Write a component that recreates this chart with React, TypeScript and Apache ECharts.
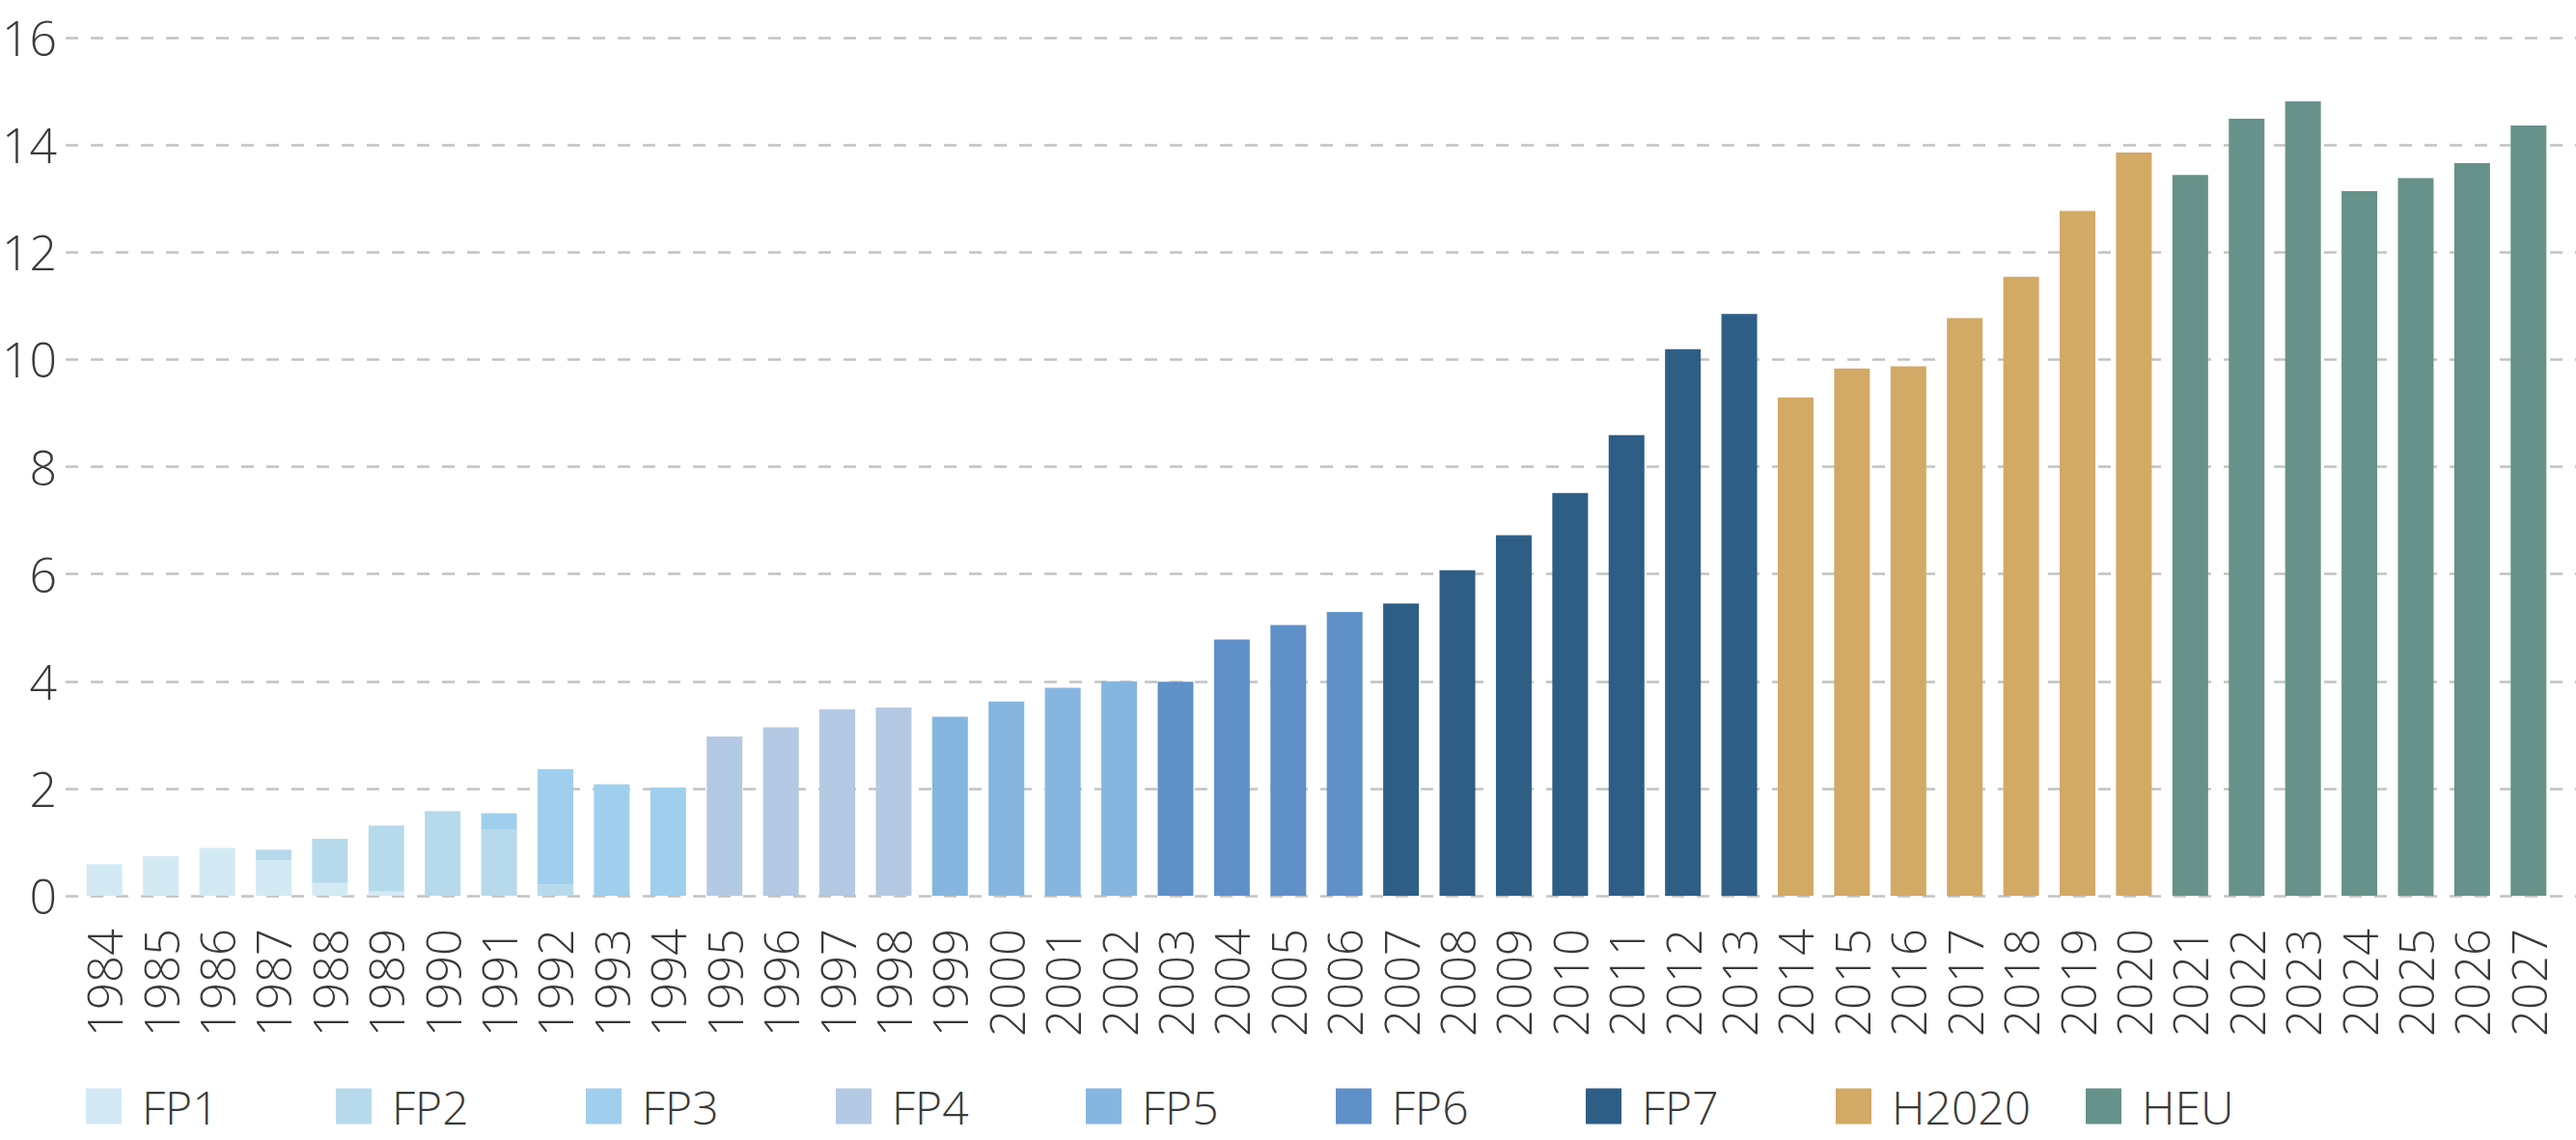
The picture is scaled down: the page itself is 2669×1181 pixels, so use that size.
import React, { useEffect, useRef } from "react";
import * as echarts from "echarts";

const years = [
  "1984", "1985", "1986", "1987", "1988", "1989", "1990", "1991", "1992", "1993", "1994",
  "1995", "1996", "1997", "1998", "1999", "2000", "2001", "2002", "2003", "2004", "2005",
  "2006", "2007", "2008", "2009", "2010", "2011", "2012", "2013", "2014", "2015", "2016",
  "2017", "2018", "2019", "2020", "2021", "2022", "2023", "2024", "2025", "2026", "2027",
];

const _ = null;
// 1984 .. 2027 (44 values each)
const fp1 = [0.59, 0.74, 0.89, 0.66, 0.24, 0.08, _, _, _, _, _, _, _, _, _, _, _, _, _, _, _, _, _, _, _, _, _, _, _, _, _, _, _, _, _, _, _, _, _, _, _, _, _, _];
const fp2 = [_, _, _, 0.2, 0.82, 1.23, 1.58, 1.24, 0.21, _, _, _, _, _, _, _, _, _, _, _, _, _, _, _, _, _, _, _, _, _, _, _, _, _, _, _, _, _, _, _, _, _, _, _];
const fp3 = [_, _, _, _, _, _, _, 0.3, 2.15, 2.08, 2.02, _, _, _, _, _, _, _, _, _, _, _, _, _, _, _, _, _, _, _, _, _, _, _, _, _, _, _, _, _, _, _, _, _];
const fp4 = [_, _, _, _, _, _, _, _, _, _, _, 2.97, 3.14, 3.48, 3.51, _, _, _, _, _, _, _, _, _, _, _, _, _, _, _, _, _, _, _, _, _, _, _, _, _, _, _, _, _];
const fp5 = [_, _, _, _, _, _, _, _, _, _, _, _, _, _, _, 3.34, 3.62, 3.88, 4.0, _, _, _, _, _, _, _, _, _, _, _, _, _, _, _, _, _, _, _, _, _, _, _, _, _];
const fp6 = [_, _, _, _, _, _, _, _, _, _, _, _, _, _, _, _, _, _, _, 3.99, 4.78, 5.05, 5.29, _, _, _, _, _, _, _, _, _, _, _, _, _, _, _, _, _, _, _, _, _];
const fp7 = [_, _, _, _, _, _, _, _, _, _, _, _, _, _, _, _, _, _, _, _, _, _, _, 5.45, 6.07, 6.72, 7.51, 8.59, 10.19, 10.85, _, _, _, _, _, _, _, _, _, _, _, _, _, _];
const h2020 = [_, _, _, _, _, _, _, _, _, _, _, _, _, _, _, _, _, _, _, _, _, _, _, _, _, _, _, _, _, _, 9.29, 9.83, 9.87, 10.77, 11.54, 12.77, 13.86, _, _, _, _, _, _, _];
const heu = [_, _, _, _, _, _, _, _, _, _, _, _, _, _, _, _, _, _, _, _, _, _, _, _, _, _, _, _, _, _, _, _, _, _, _, _, _, 13.44, 14.49, 14.81, 13.14, 13.38, 13.66, 14.36];

const seriesNames = ["FP1", "FP2", "FP3", "FP4", "FP5", "FP6", "FP7", "H2020", "HEU"];
const seriesValues = [fp1, fp2, fp3, fp4, fp5, fp6, fp7, h2020, heu];
const seriesColors = ["#d3eaf5", "#b6daeb", "#a0cfed", "#b4c9e3", "#86b6df", "#6090c8", "#2e5e86", "#d2a965", "#66928a"];

const yTicks = { min: 0, max: 16, interval: 2 };

const FONT = "'Open Sans', 'Noto Sans', sans-serif";
const TEXT = "#3a3a3a";

export default function App() {
  const ref = useRef<HTMLDivElement>(null);

  useEffect(() => {
    if (!ref.current) return;
    const chart = echarts.init(ref.current, undefined, { renderer: "svg" });

    const top = 39;
    const bottom = 253;

    const legends = seriesNames.map((name, i) => ({
      data: [name],
      left: 89 + i * 259,
      top: 1121,
      orient: "horizontal",
      icon: "rect",
      itemWidth: 37,
      itemHeight: 37,
      selectedMode: false,
      padding: 0,
      textStyle: {
        fontFamily: FONT,
        fontSize: 48,
        lineHeight: 50,
        fontWeight: 300,
        color: TEXT,
        padding: [0, 0, 0, 16],
      },
    }));

    chart.setOption({
      animation: false,
      backgroundColor: "#ffffff",
      legend: legends,
      grid: [
        { left: 68, right: 0, top, bottom, containLabel: false, outerBoundsMode: "none" },
        { left: 79, right: 20, top, bottom, containLabel: false, outerBoundsMode: "none" },
      ],
      xAxis: [
        { type: "value", gridIndex: 0, show: false, min: 0, max: 1 },
        {
          type: "category",
          gridIndex: 1,
          data: years,
          axisLine: { show: false },
          axisTick: { show: false },
          splitLine: { show: false },
          axisLabel: {
            rotate: 90,
            margin: 34,
            interval: 0,
            fontFamily: FONT,
            fontSize: 49,
            fontWeight: 300,
            color: TEXT,
          },
        },
      ],
      yAxis: [
        {
          type: "value",
          gridIndex: 0,
          min: yTicks.min,
          max: yTicks.max,
          interval: yTicks.interval,
          axisLine: { show: false },
          axisTick: { show: false },
          axisLabel: {
            margin: 9,
            fontFamily: FONT,
            fontSize: 50,
            fontWeight: 300,
            color: TEXT,
          },
          splitLine: {
            show: true,
            lineStyle: { color: "#c2c2c2", width: 2.5, type: [13, 13] },
          },
        },
        {
          type: "value",
          gridIndex: 1,
          min: yTicks.min,
          max: yTicks.max,
          interval: yTicks.interval,
          show: false,
          splitLine: { show: false },
        },
      ],
      series: seriesNames.map((name, i) => ({
        name,
        type: "bar",
        stack: "total",
        xAxisIndex: 1,
        yAxisIndex: 1,
        barWidth: 37,
        data: seriesValues[i],
        itemStyle: { color: seriesColors[i] },
      })),
    });

    return () => chart.dispose();
  }, []);

  return (
    <div
      ref={ref}
      style={{ position: "absolute", left: 0, top: 0, width: 2669, height: 1181 }}
    />
  );
}
